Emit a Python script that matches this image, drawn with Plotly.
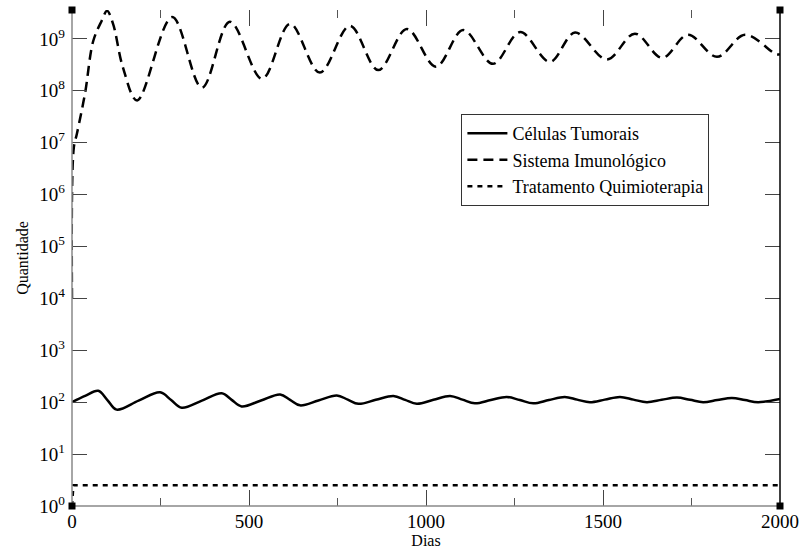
import plotly.graph_objects as go

# ---- data ----
tumor_days = [0, 37, 74, 100, 126, 188, 249, 280, 310, 367, 423, 451, 479, 534, 588, 616, 644,
              696, 748, 779, 809, 858, 908, 941, 974, 1021, 1068, 1103, 1138, 1183, 1228, 1265,
              1303, 1347, 1392, 1427, 1463, 1505, 1548, 1586, 1624, 1666, 1709, 1746, 1783, 1823,
              1864, 1901, 1938, 2000]
tumor_vals = [100, 132, 166, 110, 72, 107, 155, 110, 78, 107, 148, 111, 83, 108, 141, 111, 87,
              108, 135, 112, 93, 111, 132, 111, 93, 111, 132, 112, 95, 110, 126, 110,
              95, 110, 126, 112, 100, 112, 126, 112, 100, 111, 123, 111, 100, 110,
              120, 110, 100, 115]

immune_days = [0, 5, 14, 37, 60, 84, 99, 116, 144, 184, 283, 367, 446, 537, 616, 700, 785,
               865, 946, 1028, 1105, 1189, 1266, 1350, 1421, 1511, 1590, 1667, 1740, 1822, 1901,
               1990, 2000]
immune_vals = [1.0e4, 7.9e6, 1.5e7, 9.1e7, 9.1e8, 2.24e9, 3.47e9, 1.95e9, 2.8e8, 6.5e7,
               2.63e9, 1.15e8, 2.14e9, 1.7e8, 1.95e9, 2.24e8, 1.78e9, 2.5e8, 1.55e9, 2.9e8,
               1.48e9, 3.3e8, 1.35e9, 3.6e8, 1.32e9, 4.0e8, 1.26e9, 4.3e8, 1.2e9, 4.5e8, 1.2e9,
               5.0e8, 5.1e8]

treat_days = [0, 4, 2000]
treat_vals = [1.0, 2.5, 2.5]

y_tickvals = [1, 10, 100, 1e3, 1e4, 1e5, 1e6, 1e7, 1e8, 1e9]
y_ticktext = ["10<sup>%d</sup>" % i for i in range(10)]
x_tickvals = [0, 500, 1000, 1500, 2000]
x_ticktext = ["0", "500", "1000", "1500", "2000"]
x_minor = [250, 750, 1250, 1750]

FONT = "Liberation Serif, Times New Roman, serif"

fig = go.Figure()
fig.add_trace(go.Scatter(x=tumor_days, y=tumor_vals, mode="lines", name="Células Tumorais",
                         line=dict(color="black", width=2.5, shape="spline", smoothing=1.0)))
fig.add_trace(go.Scatter(x=immune_days, y=immune_vals, mode="lines", name="Sistema Imunológico",
                         line=dict(color="black", width=2.5, dash="10px,6px", shape="spline", smoothing=1.0)))
fig.add_trace(go.Scatter(x=treat_days, y=treat_vals, mode="lines", name="Tratamento Quimioterapia",
                         line=dict(color="black", width=2.5, dash="5px,5px")))

top_log = 9.556

fig.update_layout(
    width=801, height=552,
    margin=dict(l=72, r=21, t=10, b=46),
    paper_bgcolor="white", plot_bgcolor="white",
    font=dict(family=FONT, color="black", size=19),
    showlegend=True,
    legend=dict(x=0.55, y=0.79, xanchor="left", yanchor="top",
                bgcolor="white", bordercolor="#333", borderwidth=1,
                font=dict(family=FONT, size=18, color="black"),
                tracegroupgap=0, itemwidth=40),
    xaxis=dict(range=[0, 2000], showgrid=False, zeroline=False, automargin=False,
               showline=False, mirror="ticks",
               ticks="inside", ticklen=16, tickcolor="#444", tickwidth=1,
               tickvals=x_tickvals, ticktext=x_ticktext, ticklabelstandoff=2,
               minor=dict(ticks="inside", ticklen=8, tickcolor="#555", tickvals=x_minor),
               tickfont=dict(family=FONT, size=19),
               title=dict(text="Dias", font=dict(family=FONT, size=16), standoff=0)),
    yaxis=dict(type="log", range=[0, top_log], showgrid=False, zeroline=False, automargin=False,
               showline=False, mirror="ticks",
               ticks="inside", ticklen=15, tickcolor="#444", tickwidth=1,
               tickvals=y_tickvals, ticktext=y_ticktext, ticklabelstandoff=6,
               tickfont=dict(family=FONT, size=19),
               title=dict(text="Quantidade", font=dict(family=FONT, size=16), standoff=6)),
)

# axis lines: left and bottom gray, right black, no top line
fig.add_shape(type="line", xref="paper", yref="paper", x0=0, x1=0, y0=0, y1=1,
              line=dict(color="#888", width=1.5))
fig.add_shape(type="line", xref="paper", yref="paper", x0=0, x1=1, y0=0, y1=0,
              line=dict(color="#888", width=1.5))
fig.add_shape(type="line", xref="paper", yref="paper", x0=1, x1=1, y0=0, y1=1,
              line=dict(color="black", width=1.5))
# small corner squares
for cx, cy in [(0, 0), (1, 0), (0, 1), (1, 1)]:
    fig.add_shape(type="rect", xref="paper", yref="paper",
                  xsizemode="pixel", ysizemode="pixel", xanchor=cx, yanchor=cy,
                  x0=-3.5, x1=3.5, y0=-3.5, y1=3.5,
                  fillcolor="black", line=dict(width=0))

fig.write_html("out.html")
